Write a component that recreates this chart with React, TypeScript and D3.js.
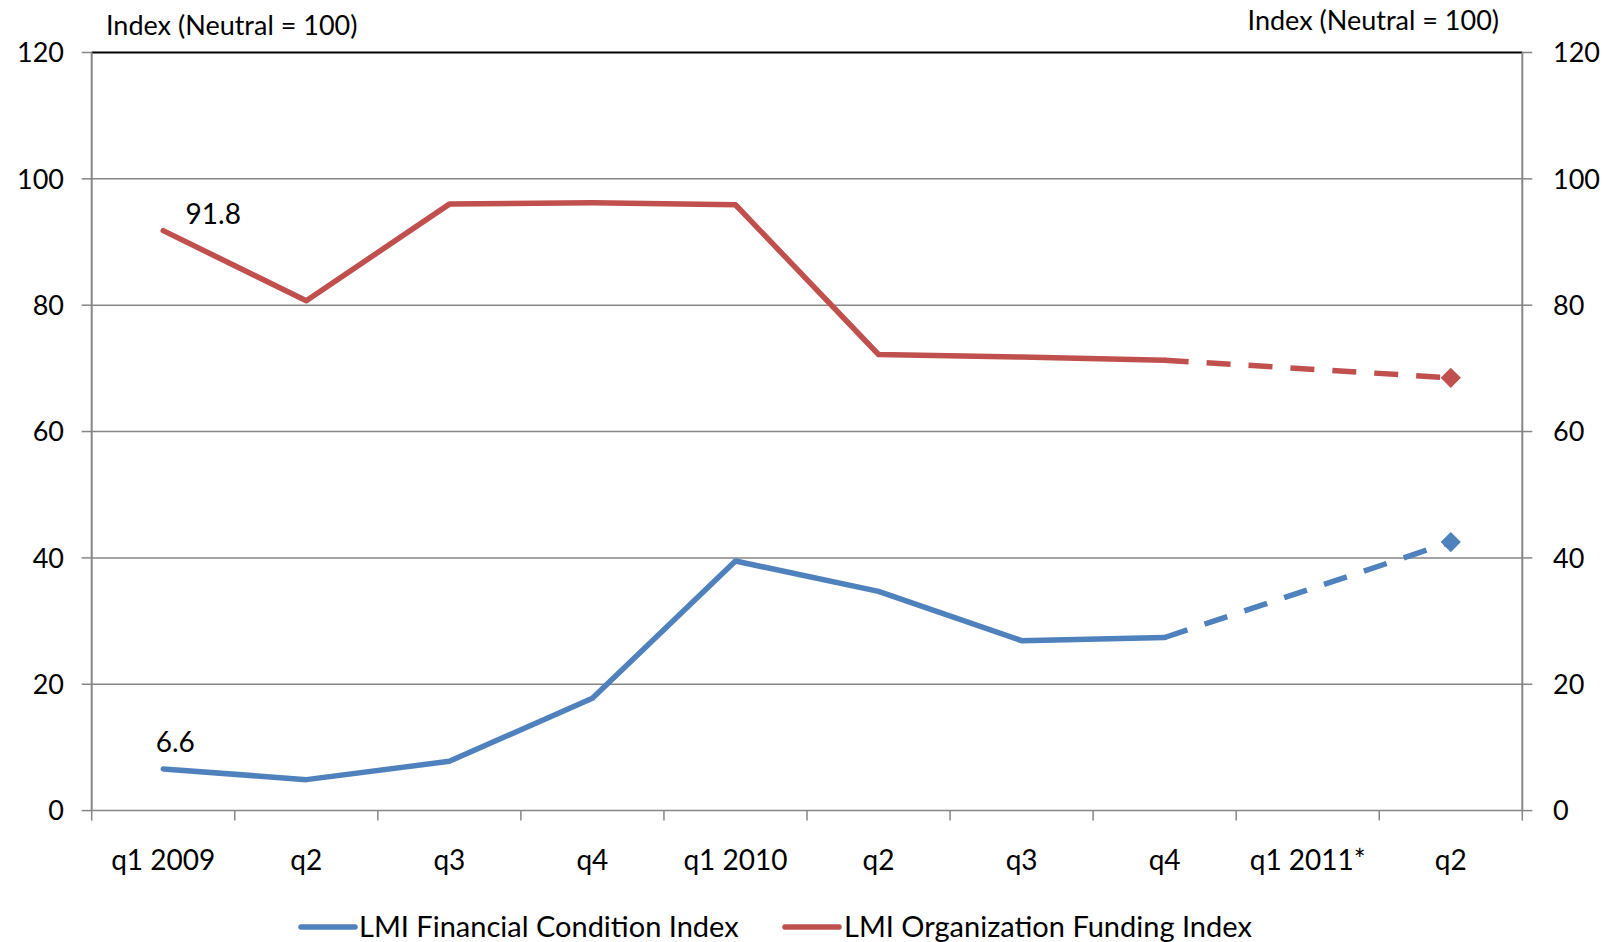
import React from "react";
import * as d3 from "d3";

const categories = ["q1 2009", "q2", "q3", "q4", "q1 2010", "q2", "q3", "q4", "q1 2011*", "q2"];
const financialActual: (number | null)[] = [6.6, 4.9, 7.8, 17.8, 39.5, 34.7, 26.9, 27.4, null, null];
const financialForecast: (number | null)[] = [null, null, null, null, null, null, null, 27.4, null, 42.5];
const fundingActual: (number | null)[] = [91.8, 80.7, 96.0, 96.2, 95.9, 72.2, 71.8, 71.3, null, null];
const fundingForecast: (number | null)[] = [null, null, null, null, null, null, null, 71.3, null, 68.5];
const yTicks = [0, 20, 40, 60, 80, 100, 120];
const seriesNames = ["LMI Financial Condition Index", "LMI Organization Funding Index"];
const axisTitle = "Index (Neutral = 100)";

const W = 1615;
const H = 942;
const left = 91.7;
const right = 1522.3;
const top = 52.5;
const bottom = 810.6;
const BLUE = "#4F81BD";
const RED = "#C0504D";
const GRID = "#868686";
const FONT = "Lato, 'Open Sans', sans-serif";

export default function App() {
  const idx = categories.map((_, i) => i);
  const x = d3.scaleBand<number>().domain(idx).range([left, right]).padding(0);
  const cx = (i: number) => (x(i) as number) + x.bandwidth() / 2;
  const y = d3.scaleLinear().domain([0, 120]).range([bottom, top]);

  const mkLine = (vals: (number | null)[]) => {
    const pts = vals.map((v, i) => [i, v] as [number, number | null]).filter((p) => p[1] !== null) as [number, number][];
    return d3.line<[number, number]>().x((d) => cx(d[0])).y((d) => y(d[1]))(pts) || "";
  };

  const diamond = d3.symbol().type(d3.symbolDiamond2).size(260)();

  const lastIdx = categories.length - 1;

  return (
    <svg width={W} height={H} style={{ position: "absolute", left: 0, top: 0, background: "#fff" }} fontFamily={FONT}>
      {/* gridlines */}
      {yTicks.map((t) => (
        <line key={"g" + t} x1={left} x2={right} y1={y(t)} y2={y(t)} stroke={t === 120 ? "#000" : GRID} strokeWidth={t === 120 ? 2 : 1.5} />
      ))}
      {/* y axes */}
      <line x1={left} x2={left} y1={top} y2={bottom} stroke={GRID} strokeWidth={2} />
      <line x1={right} x2={right} y1={top} y2={bottom} stroke={GRID} strokeWidth={2} />
      {yTicks.map((t) => (
        <g key={"t" + t}>
          <line x1={left - 10} x2={left} y1={y(t)} y2={y(t)} stroke={GRID} strokeWidth={1.5} />
          <line x1={right} x2={right + 10} y1={y(t)} y2={y(t)} stroke={GRID} strokeWidth={1.5} />
          <text x={64} y={y(t)} dy="0.36em" textAnchor="end" fontSize={27} fill="#000">{t}</text>
          <text x={1553} y={y(t)} dy="0.36em" textAnchor="start" fontSize={27} fill="#000">{t}</text>
        </g>
      ))}
      {/* x axis ticks */}
      {idx.concat([categories.length]).map((i) => {
        const xx = i < categories.length ? (x(i) as number) : right;
        return <line key={"xt" + i} x1={xx} x2={xx} y1={bottom} y2={bottom + 10} stroke={GRID} strokeWidth={1.5} />;
      })}
      {categories.map((c, i) => (
        <text key={"c" + i} x={cx(i)} y={860} dy="0.36em" textAnchor="middle" fontSize={28} fill="#000">{c}</text>
      ))}
      {/* axis titles */}
      <text x={106} y={25} dy="0.36em" fontSize={27} fill="#000">{axisTitle}</text>
      <text x={1499} y={20} dy="0.36em" textAnchor="end" fontSize={27} fill="#000">{axisTitle}</text>

      {/* series */}
      <path d={mkLine(financialActual)} fill="none" stroke={BLUE} strokeWidth={5.5} strokeLinejoin="round" strokeLinecap="round" />
      <path d={mkLine(financialForecast)} fill="none" stroke={BLUE} strokeWidth={5.5} strokeDasharray="24 18" />
      <path d={mkLine(fundingActual)} fill="none" stroke={RED} strokeWidth={5.5} strokeLinejoin="round" strokeLinecap="round" />
      <path d={mkLine(fundingForecast)} fill="none" stroke={RED} strokeWidth={5.5} strokeDasharray="24 18" />
      <path d={diamond} transform={`translate(${cx(lastIdx)},${y(financialForecast[lastIdx] as number)})`} fill={BLUE} />
      <path d={diamond} transform={`translate(${cx(lastIdx)},${y(fundingForecast[lastIdx] as number)})`} fill={RED} />

      {/* data labels */}
      <text x={cx(0) + 12} y={y(financialActual[0] as number) - 27} dy="0.36em" textAnchor="middle" fontSize={28} fill="#000">{financialActual[0]}</text>
      <text x={cx(0) + 50} y={y(fundingActual[0] as number) - 17} dy="0.36em" textAnchor="middle" fontSize={28} fill="#000">{fundingActual[0]}</text>

      {/* legend */}
      <line x1={301} x2={355} y1={927} y2={927} stroke={BLUE} strokeWidth={5.5} strokeLinecap="round" />
      <text x={359} y={927} dy="0.36em" fontSize={29} fill="#000">{seriesNames[0]}</text>
      <line x1={785} x2={839} y1={927} y2={927} stroke={RED} strokeWidth={5.5} strokeLinecap="round" />
      <text x={844} y={927} dy="0.36em" fontSize={29} fill="#000">{seriesNames[1]}</text>
    </svg>
  );
}
